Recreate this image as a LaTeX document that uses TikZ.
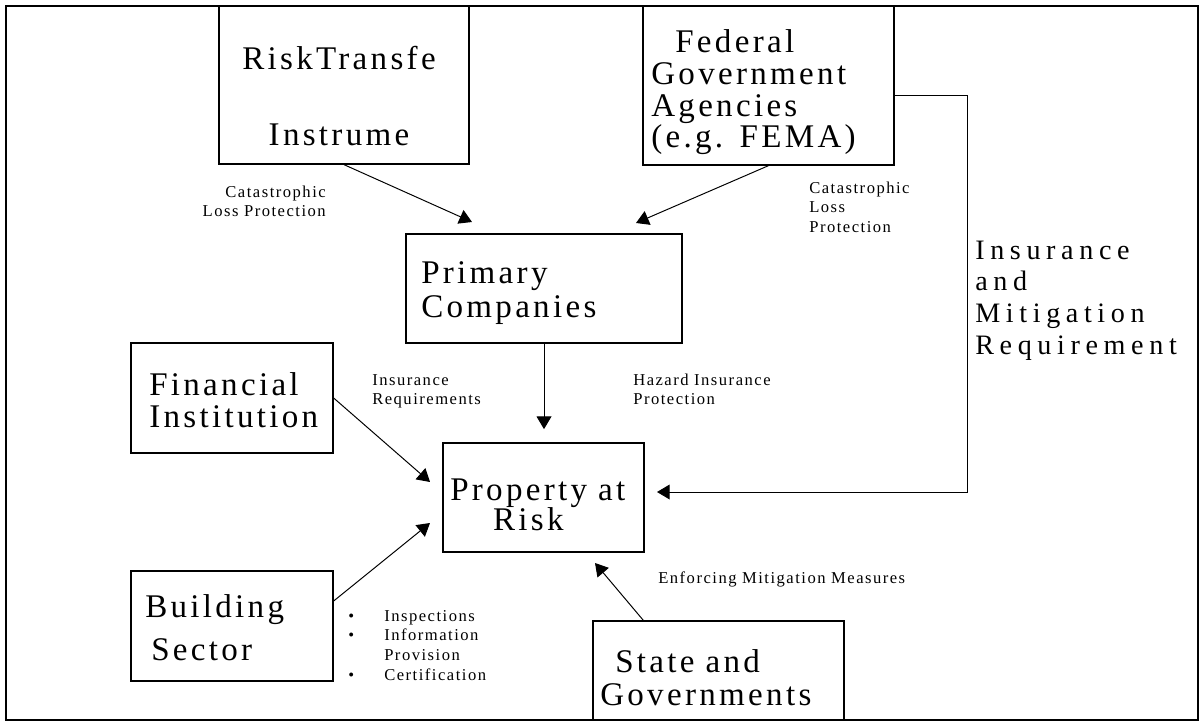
\documentclass[tikz,border=0pt]{standalone}
\usepackage{fontspec}
\setmainfont{Liberation Serif}
\newfontfamily\bigfont[LetterSpace=10]{Liberation Serif}
\newfontfamily\midfont[LetterSpace=20]{Liberation Serif}
\newfontfamily\smallfont[LetterSpace=9,WordSpace=1.6]{Liberation Serif}
\usetikzlibrary{arrows.meta, calc}

\tikzset{
  box/.style={draw, line width=0.9pt, inner sep=0pt},
  bigtxt/.style={font=\bigfont\fontsize{23.5}{#1}\selectfont, inner sep=0pt, text width=6.5cm, align=left, anchor=base west},
  bigtxt/.default=23,
  midtxt/.style={font=\midfont\fontsize{20}{22.7}\selectfont, inner sep=0pt, text width=6cm, align=left, anchor=base west},
  smalltxt/.style={font=\smallfont\fontsize{11.8}{13.9}\selectfont, inner sep=0pt, text width=5cm, align=left, anchor=base west},
  arr/.style={-{Triangle[length=9pt,width=10.5pt]}, line width=0.7pt},
}

\begin{document}
\begin{tikzpicture}[x=0.025cm, y=-0.025cm]
  \useasboundingbox (0,0) rectangle (1201,722);
  % outer frame
  \draw[line width=1.4pt] (6,6) rectangle (1198,720);

  % Boxes
  \node[box, minimum width=6.25cm, minimum height=3.95cm] (risk) at (344,85) {};
  \node[box, minimum width=6.275cm, minimum height=3.975cm] (fema) at (768.5,85.5) {};
  \node[box, minimum width=6.9cm, minimum height=2.725cm] (primary) at (544,288.5) {};
  \node[box, minimum width=5.05cm, minimum height=2.75cm] (fin) at (232,398) {};
  \node[box, minimum width=5.025cm, minimum height=2.725cm] (prop) at (543.5,497.5) {};
  \node[box, minimum width=5.05cm, minimum height=2.75cm] (build) at (232,626) {};
  \node[box, minimum width=6.275cm, minimum height=2.475cm] (state) at (718.5,670.5) {};

  % Box texts
  \node[bigtxt=54, align=center, anchor=base] (risk-t) at (339,70) {RiskTransfe\\Instrume};
  \node[bigtxt=22.5] (fema-t) at (651,53) {\hspace*{0.6cm}Federal\\Government\\Agencies\\(e.g. FEMA)};
  \node[bigtxt=24.2] (primary-t) at (421,283) {Primary\\Companies};
  \node[bigtxt=22.8] (fin-t) at (149,395) {Financial\\Institution};
  \node[bigtxt=22] (prop-t) at (450,500) {Property at\\\hspace*{1.07cm}Risk};
  \node[bigtxt=30.6] (build-t) at (145,617) {Building\\\hspace*{0.15cm}Sector};
  \node[bigtxt=23.5] (state-t) at (600,672) {\hspace*{0.375cm}State and\\Governments};

  % Connector labels
  \node[smalltxt, align=right, anchor=base east] (cat-l) at (326,197) {Catastrophic\\Loss Protection};
  \node[smalltxt] (cat-r) at (809,193) {Catastrophic\\Loss\\Protection};
  \node[smalltxt, font=\smallfont\fontsize{11.8}{14.2}\selectfont] (insreq) at (372,385) {Insurance\\Requirements};
  \node[smalltxt, font=\smallfont\fontsize{11.8}{14.2}\selectfont] (hazard) at (633,385) {Hazard Insurance\\Protection};
  \node[smalltxt, text width=7cm] (enforce) at (658,583) {Enforcing Mitigation Measures};
  \node[smalltxt, font=\smallfont\fontsize{11.8}{14.2}\selectfont] (bsec) at (348,621)
    {\makebox[0.9cm][l]{\textbullet}Inspections\\\makebox[0.9cm][l]{\textbullet}Information\\\hspace*{0.9cm}Provision\\\makebox[0.9cm][l]{\textbullet}Certification};
  \node[midtxt] (insmit) at (975,259) {Insurance\\and\\Mitigation\\Requirement};

  % Connectors
  \coordinate (risk-in) at (472,222);
  \coordinate (fema-in) at (636,223);
  \coordinate (fin-in) at (430,482);
  \coordinate (build-out) at ($(build.east)+(0,-25)$);
  \coordinate (build-in) at (430,523);
  \coordinate (state-out) at ($(state.north west)+(51,0)$);
  \coordinate (state-in) at (595,563);
  \coordinate (fema-out) at ($(fema.east)+(0,9.5)$);
  \coordinate (prop-in) at (657,492);

  \draw[arr] (risk.south) -- (risk-in);
  \draw[arr] (fema.south) -- (fema-in);
  \draw[arr, shorten >=0.33cm] (primary.south) -- (primary.south |- prop.north);
  \draw[arr] (fin.east) -- (fin-in);
  \draw[arr] (build-out) -- (build-in);
  \draw[arr] (state-out) -- (state-in);
  \draw[arr] (fema-out) -- ++(73,0) |- (prop-in);
\end{tikzpicture}
\end{document}
